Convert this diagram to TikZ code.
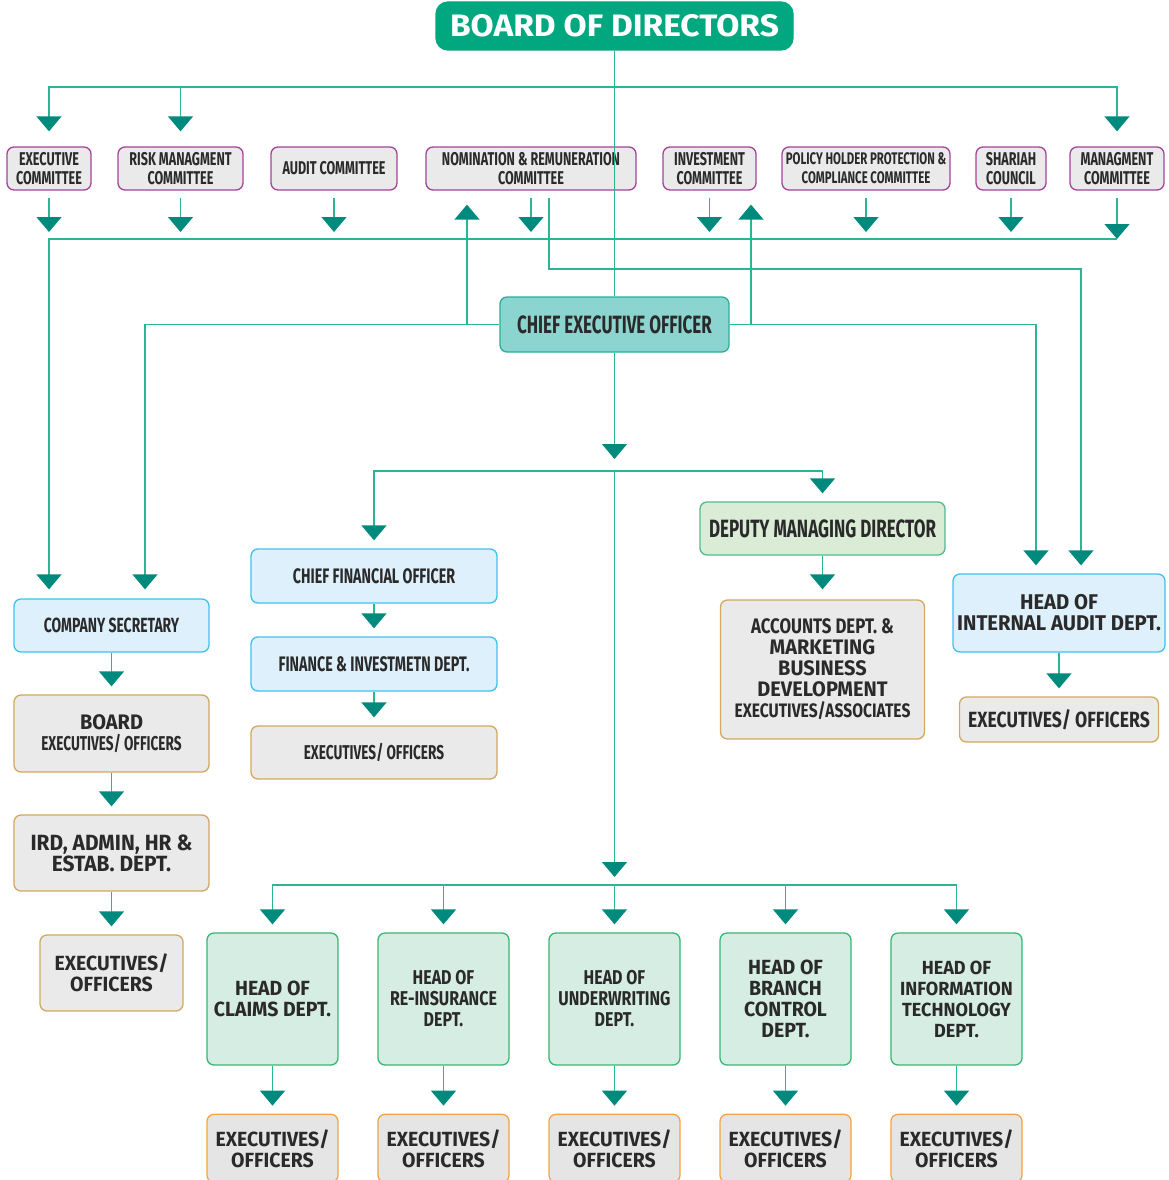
\documentclass[tikz,border=0pt]{standalone}
\usepackage{fontspec}
\setmainfont{Fira Sans}
\newfontfamily\condf{Fira Sans}[FakeStretch=0.68]
\newfontfamily\midf{Fira Sans}[FakeStretch=0.8]
\newfontfamily\widef{Fira Sans}[FakeStretch=0.95]
\newfontfamily\titlef{Fira Sans}[FakeStretch=1.08]
\usetikzlibrary{arrows.meta,positioning}
\definecolor{boardc}{HTML}{00A77F}
\definecolor{linec}{HTML}{2CB592}
\definecolor{arrowc}{HTML}{00897D}
\definecolor{purplec}{HTML}{A1449A}
\definecolor{greyc}{HTML}{EAEAEA}
\definecolor{grey2c}{HTML}{E5E5E5}
\definecolor{tanc}{HTML}{D4A760}
\definecolor{orangec}{HTML}{F4A340}
\definecolor{bluec}{HTML}{3FC1EE}
\definecolor{lbluec}{HTML}{DDF0FB}
\definecolor{ceofc}{HTML}{8CD4D0}
\definecolor{ceoc}{HTML}{2AAF99}
\definecolor{dmdfc}{HTML}{DAEBD6}
\definecolor{dmdc}{HTML}{52BA8E}
\definecolor{lheadc}{HTML}{D5EDE3}
\definecolor{headc}{HTML}{35B873}
\definecolor{txtc}{HTML}{2A2A2A}
\begin{document}
\begin{tikzpicture}[x=1pt,y=-1pt,
  box/.style={rounded corners=7pt, line width=1.3pt, align=center, text=txtc, inner sep=1pt},
  cond/.style={font=\condf\bfseries\fontsize{#1}{21}\selectfont},
  mid/.style={font=\midf\bfseries\fontsize{#1}{21}\selectfont},
  wide/.style={font=\widef\bfseries\fontsize{#1}{21}\selectfont},
  comm/.style={box, draw=purplec, fill=greyc, minimum height=43pt, font=\condf\bfseries\fontsize{18.5}{19}\selectfont},
  bluebox/.style={box, draw=bluec, fill=lbluec},
  tanbox/.style={box, draw=tanc, fill=greyc},
  headbox/.style={box, draw=headc, fill=lheadc, minimum width=131pt, minimum height=132pt},
  exbox/.style={box, draw=orangec, fill=grey2c, minimum width=131pt, minimum height=68pt, wide=20.5},
  ln/.style={line width=1.4pt, draw=linec},
  arr/.style={ln, -{Triangle[width=25pt,length=15pt,color=arrowc,fill=arrowc]}, shorten >=8pt},
]
\clip (0,0) rectangle (1168,1180);

% board and committees
\node[box, draw=boardc, fill=boardc, rounded corners=12pt, minimum width=357pt, minimum height=48pt, text=white, font=\titlef\bfseries\fontsize{31}{31}\selectfont] (bod) at (614.5,26) {BOARD OF DIRECTORS};
\node[comm, minimum width=84pt] (exe) at (49,168.5) {EXECUTIVE\\COMMITTEE};
\node[comm, minimum width=125pt] (risk) at (180.5,168.5) {RISK MANAGMENT\\COMMITTEE};
\node[comm, minimum width=126pt] (audit) at (334,168.5) {AUDIT COMMITTEE};
\node[comm, minimum width=210pt] (nom) at (531,168.5) {NOMINATION \& REMUNERATION\\COMMITTEE};
\node[comm, minimum width=93pt] (inv) at (709.5,168.5) {INVESTMENT\\COMMITTEE};
\node[comm, minimum width=168pt, font=\condf\bfseries\fontsize{16.8}{19}\selectfont] (pol) at (866,168.5) {POLICY HOLDER PROTECTION \&\\COMPLIANCE COMMITTEE};
\node[comm, minimum width=70pt] (sha) at (1011,168.5) {SHARIAH\\COUNCIL};
\node[comm, minimum width=94pt] (mgmt) at (1117,168.5) {MANAGMENT\\COMMITTEE};

\node[box, draw=ceoc, fill=ceofc, minimum width=229pt, minimum height=55pt, cond=25] (ceo) at (614.5,324.5) {CHIEF EXECUTIVE OFFICER};

% left column
\node[bluebox, minimum width=195pt, minimum height=53pt, cond=20.5] (cosec) at (111.5,625.5) {COMPANY SECRETARY};
\node[tanbox, minimum width=195pt, minimum height=77pt, cond=20] (bexec) at (111.5,733.5) {{\widef\fontsize{21}{21}\selectfont BOARD}\\EXECUTIVES/ OFFICERS};
\node[tanbox, minimum width=195pt, minimum height=76pt, wide=22] (ird) at (111.5,853) {IRD, ADMIN, HR \&\\ESTAB. DEPT.};
\node[tanbox, minimum width=143pt, minimum height=76pt, wide=20.5] (irdx) at (111.5,973) {EXECUTIVES/\\OFFICERS};

% finance column
\node[bluebox, minimum width=246pt, minimum height=54pt, cond=21] (cfo) at (374,576) {CHIEF FINANCIAL OFFICER};
\node[bluebox, minimum width=246pt, minimum height=54pt, cond=21] (fin) at (374,664) {FINANCE \& INVESTMETN DEPT.};
\node[tanbox, minimum width=246pt, minimum height=53pt, cond=20] (finx) at (374,752.5) {EXECUTIVES/ OFFICERS};

% deputy md and audit
\node[box, draw=dmdc, fill=dmdfc, minimum width=245pt, minimum height=53pt, cond=25] (dmd) at (822.5,528.5) {DEPUTY MANAGING DIRECTOR};
\node[tanbox, minimum width=204pt, minimum height=139pt, wide=21] (acc) at (822.5,669.5) {{\midf ACCOUNTS DEPT. \&}\\MARKETING\\BUSINESS\\DEVELOPMENT\\{\midf\fontsize{19.5}{21}\selectfont EXECUTIVES/ASSOCIATES}};
\node[bluebox, minimum width=212pt, minimum height=78pt, wide=21.3] (hia) at (1059,613) {HEAD OF\\INTERNAL AUDIT DEPT.};
\node[tanbox, minimum width=199pt, minimum height=45pt, mid=22] (hiax) at (1059,719.5) {EXECUTIVES/ OFFICERS};

% heads of departments
\node[headbox, wide=20.5] (claims) at (272.5,999) {HEAD OF\\CLAIMS DEPT.};
\node[headbox, mid=20] (reins) at (443.5,999) {HEAD OF\\RE-INSURANCE\\DEPT.};
\node[headbox, mid=20] (underw) at (614.5,999) {HEAD OF\\UNDERWRITING\\DEPT.};
\node[headbox, wide=20.5] (branch) at (785.5,999) {HEAD OF\\BRANCH\\CONTROL\\DEPT.};
\node[headbox, wide=19] (infotech) at (956.5,999) {HEAD OF\\INFORMATION\\TECHNOLOGY\\DEPT.};
\foreach \h in {claims,reins,underw,branch,infotech}
  \node[exbox, below=48pt of \h] (\h x) {EXECUTIVES/\\OFFICERS};

% connectors
\coordinate (topbus) at (614.5,87);
\coordinate (bus) at (0,239);
\coordinate (nrbend) at (1081,269);
\coordinate (upl) at (467,324.5);
\coordinate (upr) at (751,324.5);
\coordinate (midbus) at (614.5,471);
\coordinate (botbus) at (614.5,885);

\draw[ln] (bod) -- (ceo);
\foreach \c in {exe,risk,mgmt}
  \draw[arr, shorten >=15pt] (topbus) -| (\c.north);
\foreach \c in {exe,risk,audit,nom,inv,pol,sha}
  \draw[arr, shorten <=7pt, shorten >=7pt] (\c.south) -- (\c.south |- bus);
\draw[arr, shorten <=7pt, shorten >=0pt] (mgmt.south) -- (mgmt.south |- bus);
\draw[arr, shorten >=9pt] (mgmt.south |- bus) -| (exe.south |- cosec.north);
\draw[arr, shorten <=7pt] ([xshift=18pt]nom.south) |- (nrbend) -- (nrbend |- hia.north);

\draw[arr, shorten >=9pt] (ceo.west) -| ([xshift=33.5pt]cosec.north);
\draw[arr] (ceo.east) -| ([xshift=-23pt]hia.north);
\draw[arr, shorten >=14pt] (upl) -- (upl |- nom.south);
\draw[arr, shorten >=14pt] (upr) -- (upr |- inv.south);

\draw[arr, shorten >=12pt] (ceo) -- (midbus);
\draw[arr] (midbus) -| (cfo);
\draw[arr] (midbus) -| (dmd);
\draw[arr] (midbus) -- (botbus);
\foreach \h in {claims,reins,underw,branch,infotech}{
  \draw[arr] (botbus) -| (\h);
  \draw[arr] (\h) -- (\h x);
}

\draw[arr] (cosec) -- (bexec);
\draw[arr] (bexec) -- (ird);
\draw[arr] (ird) -- (irdx);
\draw[arr] (cfo) -- (fin);
\draw[arr] (fin) -- (finx);
\draw[arr, shorten >=10pt] (dmd) -- (acc);
\draw[arr] (hia) -- (hiax);
\end{tikzpicture}
\end{document}
